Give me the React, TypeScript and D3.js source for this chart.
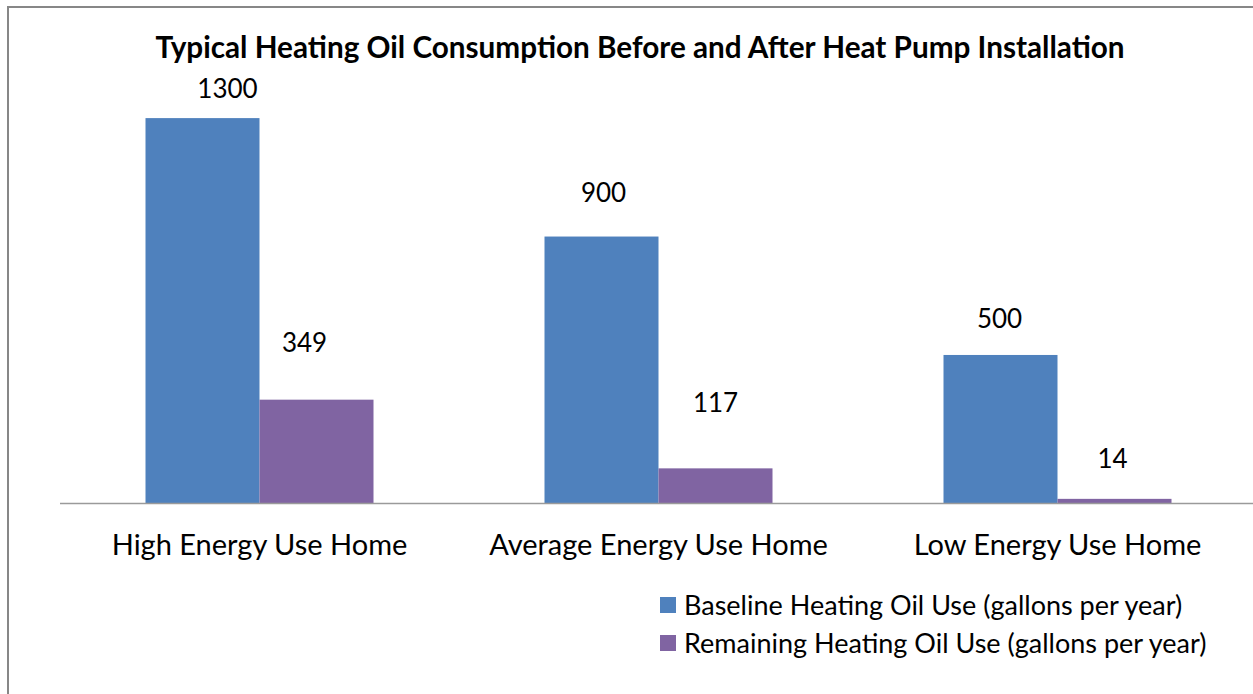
import React, { useEffect, useRef } from 'react';
import * as d3 from 'd3';

const categories = ['High Energy Use Home', 'Average Energy Use Home', 'Low Energy Use Home'];
const seriesNames = [
  'Baseline Heating Oil Use (gallons per year)',
  'Remaining Heating Oil Use (gallons per year)',
];
const baselineUse = [1300, 900, 500];
const remainingUse = [349, 117, 14];
const seriesColors = ['#4f81bd', '#8064a2'];

// hand-placed label nudges from the original chart (px, relative to bar top / centre)
const labelDx = [[25, -12], [2, 0], [-1, -2]];
const labelDy = [[20, 48], [35, 56], [27, 31]];

const W = 1253;
const H = 694;
const FONT = 'Lato, "Open Sans", sans-serif';

export default function App() {
  const svgRef = useRef<SVGSVGElement>(null);

  useEffect(() => {
    const svg = d3.select(svgRef.current);
    svg.selectAll('*').remove();

    const values = [baselineUse, remainingUse];

    // scales
    const x0 = d3.scaleBand<string>().domain(categories).range([60, 1257]).paddingInner(0).paddingOuter(0);
    const x1 = d3
      .scaleBand<string>()
      .domain(seriesNames)
      .range([0, x0.bandwidth()])
      .paddingInner(0)
      .paddingOuter(0.75);
    const y = d3.scaleLinear().domain([0, 1400]).range([503, 88.5]);

    // chart border
    svg
      .append('rect')
      .attr('x', 8)
      .attr('y', 7)
      .attr('width', W + 20)
      .attr('height', H + 20)
      .attr('fill', 'white')
      .attr('stroke', '#878787')
      .attr('stroke-width', 2);

    svg
      .append('text')
      .attr('x', 640)
      .attr('y', 58)
      .attr('text-anchor', 'middle')
      .attr('font-family', FONT)
      .attr('font-weight', 'bold')
      .attr('font-size', 29.7)
      .text('Typical Heating Oil Consumption Before and After Heat Pump Installation');

    // bars
    seriesNames.forEach((s, si) => {
      const g = svg.append('g');
      g.selectAll('rect')
        .data(values[si])
        .join('rect')
        .attr('x', (d, i) => (x0(categories[i]) as number) + (x1(s) as number))
        .attr('y', (d) => y(d))
        .attr('width', x1.bandwidth())
        .attr('height', (d) => y(0) - y(d))
        .attr('fill', seriesColors[si]);

      g.selectAll('text')
        .data(values[si])
        .join('text')
        .attr('x', (d, i) => (x0(categories[i]) as number) + (x1(s) as number) + x1.bandwidth() / 2 + labelDx[i][si])
        .attr('y', (d, i) => y(d) - labelDy[i][si])
        .attr('text-anchor', 'middle')
        .attr('font-family', FONT)
        .attr('font-size', 26)
        .attr('fill', '#000')
        .text((d) => d);
    });

    // x axis
    const xAxis = d3.axisBottom(x0).tickSize(0).tickPadding(0);
    const ax = svg.append('g').attr('transform', `translate(0,${y(0)})`).call(xAxis);
    ax.select('.domain').attr('d', `M60,0.5H${W}`).attr('stroke', '#9a9a9a').attr('stroke-width', 1.5);
    ax.selectAll('.tick text')
      .attr('dy', null)
      .attr('y', 52)
      .attr('font-family', FONT)
      .attr('font-size', 29)
      .attr('fill', '#000');

    // legend
    const legend = svg.append('g').attr('transform', 'translate(660,597)');
    seriesNames.forEach((s, si) => {
      legend
        .append('rect')
        .attr('x', 0)
        .attr('y', si * 38)
        .attr('width', 16)
        .attr('height', 16)
        .attr('fill', seriesColors[si]);
      legend
        .append('text')
        .attr('x', 24)
        .attr('y', si * 38 + 18)
        .attr('font-family', FONT)
        .attr('font-size', 27)
        .attr('fill', '#000')
        .text(s);
    });
  }, []);

  return (
    <svg
      ref={svgRef}
      width={W}
      height={H}
      style={{ position: 'absolute', left: 0, top: 0, background: 'white' }}
    />
  );
}
